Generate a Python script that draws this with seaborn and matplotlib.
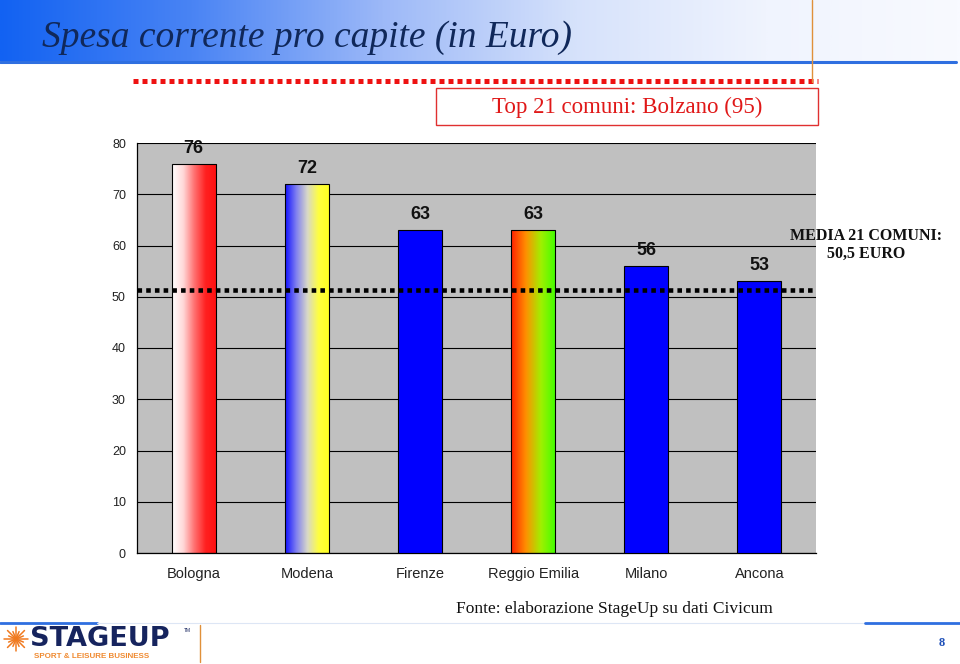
import numpy as np
import matplotlib
matplotlib.use("Agg")
import matplotlib.pyplot as plt
import seaborn as sns
import pandas as pd
from matplotlib.colors import LinearSegmentedColormap
from matplotlib.patches import Rectangle
from matplotlib.lines import Line2D

# ---------------- data ----------------
categories = ["Bologna", "Modena", "Firenze", "Reggio Emilia", "Milano", "Ancona"]
values = [76, 72, 63, 63, 56, 53]
mean_line_value = 51.3          # where the dotted average line sits on the scale
yticks = [0, 10, 20, 30, 40, 50, 60, 70, 80]
title = "Spesa corrente pro capite (in Euro)"
box_text = "Top 21 comuni: Bolzano (95)"
mean_text = ["MEDIA 21 COMUNI:", "50,5 EURO"]
source_text = "Fonte: elaborazione StageUp su dati Civicum"
page_number = "8"

# gradient fills (left -> right) per bar, None = solid blue
gradients = [
    ["#FFFFFF", "#FFD8D8", "#FF7070", "#FF2020", "#FF1010"],
    ["#1010FF", "#8080F0", "#D8D8C8", "#FFFF40", "#FFFF20"],
    None,
    ["#FF2000", "#FF9000", "#A0F000", "#40FF00"],
    None,
    None,
]

sns.set_theme(style="white")
plt.rcParams["font.family"] = ["Liberation Sans", "DejaVu Sans"]
SERIF = ["Liberation Serif", "DejaVu Serif"]

W, H = 960, 664
fig = plt.figure(figsize=(W / 100, H / 100), dpi=100)


def ftext(x, y, s, **kw):
    """figure-level text placed in pixel coordinates (top-left origin)"""
    kw.setdefault("zorder", 10)
    return fig.text(x / W, 1 - y / H, s, **kw)


# ---------- background / decoration layer in pixel coordinates ----------
bg = fig.add_axes([0, 0, 1, 1], zorder=0)
bg.set_xlim(0, W)
bg.set_ylim(H, 0)
bg.axis("off")

band_cmap = LinearSegmentedColormap.from_list(
    "band", ["#1262F2", "#4A84F4", "#9DB9F8", "#D6E2FB", "#F0F4FE", "#F8FAFF"])
grad = np.linspace(0, 1, 512).reshape(1, -1)
bg.imshow(grad, cmap=band_cmap, extent=(0, 960, 61, 0), aspect="auto", zorder=1)
bg.set_xlim(0, W)
bg.set_ylim(H, 0)
bg.add_line(Line2D([0, 956], [61.5, 61.5], color="#2F6FE0", lw=2.2, zorder=3))
bg.add_line(Line2D([812, 812], [0, 82], color="#E0903A", lw=1.0, zorder=4))
bg.text(42, 38, title, family=SERIF, style="italic",
        fontsize=27, color="#10285A", va="center", ha="left", zorder=5)

# red dotted line + box
bg.add_line(Line2D([133, 818], [81, 81], color="#EE1111", lw=3.6,
                   linestyle=(0, (1.0, 0.8)), solid_capstyle="butt", zorder=3))
bg.add_patch(Rectangle((436, 88), 382, 37, fill=False, edgecolor="#E03030", lw=1.0, zorder=3))
bg.text(627, 107, box_text, family=SERIF, fontsize=16.5,
        color="#E01818", ha="center", va="center", zorder=4)

# mean text (above the chart layer)
ftext(866, 236, mean_text[0], family=SERIF, fontweight="bold",
      fontsize=11.5, color="#111111", ha="center", va="center")
ftext(866, 254, mean_text[1], family=SERIF, fontweight="bold",
      fontsize=11.5, color="#111111", ha="center", va="center")

# footer
bg.text(614, 609, source_text, family=SERIF, fontsize=12.5,
        color="#111111", ha="center", va="center", zorder=4)
bg.add_line(Line2D([0, 97], [623, 623], color="#2F6FE0", lw=2.0, zorder=3))
bg.add_line(Line2D([97, 865], [623, 623], color="#DDE6F5", lw=0.8, zorder=3))
bg.add_line(Line2D([865, 960], [623, 623], color="#2F6FE0", lw=2.0, zorder=3))
bg.add_line(Line2D([200, 200], [625, 662], color="#E0903A", lw=1.0, zorder=3))
# logo star
cx, cy = 16, 639
for i, ang in enumerate(np.linspace(0, np.pi, 8, endpoint=False)):
    r = 12 if i % 2 == 0 else 8
    dx, dy = r * np.cos(ang), r * np.sin(ang)
    bg.add_line(Line2D([cx - dx, cx + dx], [cy - dy, cy + dy], color="#F07A20", lw=1.1, zorder=4))
bg.text(30, 646, "STAGEUP", fontsize=19.5, fontweight="bold", color="#16245E",
        ha="left", va="baseline", zorder=5, family=["DejaVu Sans"])
bg.text(184, 630, "TM", fontsize=3.5, color="#16245E", ha="left", va="center", zorder=5)
bg.text(34, 657, "SPORT & LEISURE BUSINESS", fontsize=5.8, fontweight="bold",
        color="#F08A30", ha="left", va="center", zorder=5)
bg.text(942, 643, page_number, family=SERIF, fontsize=9,
        fontweight="bold", color="#1F50B8", ha="center", va="center", zorder=5)

# ---------------- chart ----------------
ax = fig.add_axes([137 / W, 1 - 553 / H, (816 - 137) / W, (553 - 143) / H], zorder=2)
ax.set_facecolor("#C0C0C0")

df = pd.DataFrame({"city": categories, "value": values})
sns.barplot(data=df, x="city", y="value", ax=ax, color="#0000FF", saturation=1,
            width=0.39, edgecolor="black", linewidth=0.8, order=categories)

ax.set_xlim(-0.5, len(categories) - 0.5)
ax.set_ylim(0, 80)
ax.set_axisbelow(True)
ax.yaxis.grid(True, color="black", lw=0.8)
ax.xaxis.grid(False)

for patch, g in zip(ax.patches, gradients):
    patch.set_zorder(3)
    if g is None:
        continue
    x0 = patch.get_x()
    w = patch.get_width()
    h = patch.get_height()
    cmap = LinearSegmentedColormap.from_list("g", g)
    im = ax.imshow(grad, cmap=cmap, extent=(x0, x0 + w, 0, h), aspect="auto",
                   zorder=2.5, interpolation="bilinear")
    im.set_clip_path(patch)
    patch.set_facecolor("none")

ax.set_xlim(-0.5, len(categories) - 0.5)
ax.set_ylim(0, 80)
ax.set_aspect("auto")

for patch, v in zip(ax.patches, values):
    ax.annotate(f"{v}", (patch.get_x() + patch.get_width() / 2, patch.get_height()),
                xytext=(0, 5), textcoords="offset points", ha="center", va="bottom",
                fontsize=13, fontweight="bold", color="#111111", zorder=5)

ax.axhline(mean_line_value, color="black", lw=3.3, linestyle=(0, (1.0, 0.9)),
           solid_capstyle="butt", zorder=4, clip_on=False)

ax.set_yticks(yticks)
ax.set_yticklabels([str(t) for t in yticks], fontsize=9, color="#222222")
ax.set_xticks(range(len(categories)))
ax.set_xticklabels(categories, fontsize=10.5, color="#222222")
ax.set_xticks(np.arange(-0.5, len(categories), 1.0), minor=True)
ax.tick_params(axis="x", which="major", length=0, pad=10)
ax.tick_params(axis="x", which="minor", length=5, width=0.8, color="black", direction="out")
ax.tick_params(axis="y", which="major", length=5, width=0.8, color="black", direction="out", pad=3)
ax.set_xlabel("")
ax.set_ylabel("")
for s in ["top", "right"]:
    ax.spines[s].set_visible(False)
for s in ["left", "bottom"]:
    ax.spines[s].set_visible(True)
    ax.spines[s].set_color("black")
    ax.spines[s].set_linewidth(0.9)

fig.savefig("out.png", dpi=100)
